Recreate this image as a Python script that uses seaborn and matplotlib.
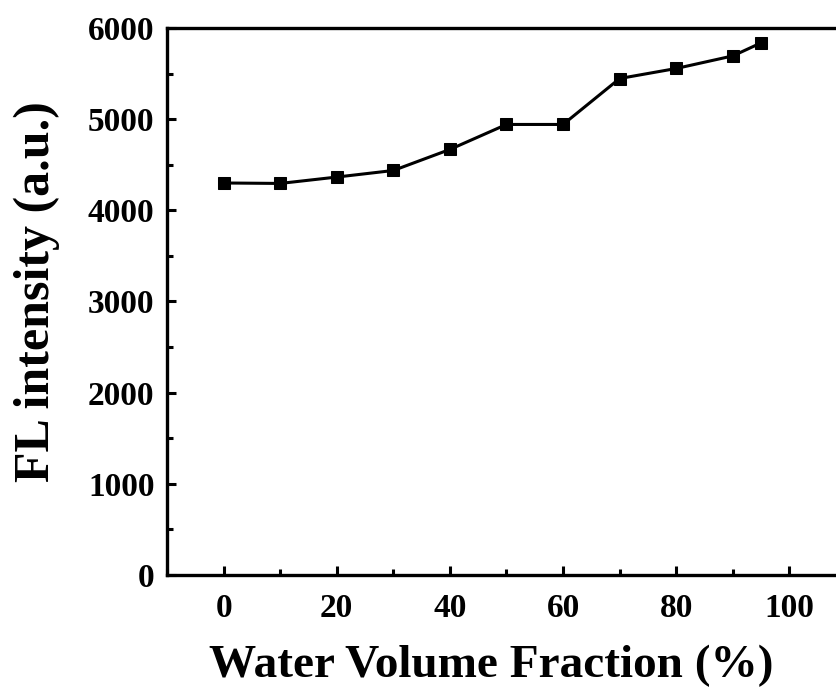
import matplotlib
matplotlib.use("Agg")
import matplotlib.pyplot as plt
import seaborn as sns
import pandas as pd
from matplotlib.ticker import MultipleLocator

water_fraction = [0, 10, 20, 30, 40, 50, 60, 70, 80, 90, 95]
fl_intensity = [4300, 4295, 4365, 4437, 4668, 4942, 4942, 5446, 5556, 5694, 5837]
x_label = "Water Volume Fraction (%)"
y_label = "FL intensity (a.u.)"

df = pd.DataFrame({"x": water_fraction, "y": fl_intensity})

sns.set_theme(style="white")
plt.rcParams["font.family"] = ["Liberation Serif", "DejaVu Serif"]
plt.rcParams["font.weight"] = "bold"

fig = plt.figure(figsize=(8.37, 6.91), dpi=100)
ax = fig.add_axes([167 / 837, 116 / 691, (846 - 167) / 837, (575 - 28) / 691])

sns.lineplot(data=df, x="x", y="y", ax=ax, color="black", linewidth=2.2,
             marker="s", markersize=9, markeredgecolor="black", markerfacecolor="black")

ax.set_xlim(-10, 110)
ax.set_ylim(0, 6000)
ax.xaxis.set_major_locator(MultipleLocator(20))
ax.xaxis.set_minor_locator(MultipleLocator(10))
ax.yaxis.set_major_locator(MultipleLocator(1000))
ax.yaxis.set_minor_locator(MultipleLocator(500))

for s in ax.spines.values():
    s.set_linewidth(2.4)
    s.set_color("black")

ax.tick_params(which="both", direction="in", color="black", width=2.2,
               bottom=True, left=True, top=False, right=False)
ax.tick_params(which="major", length=6.5)
ax.tick_params(which="minor", length=4)
ax.tick_params(axis="x", which="major", labelsize=24, pad=13, labelcolor="black")
ax.tick_params(axis="y", which="major", labelsize=24, pad=9, labelcolor="black")
for lab in ax.get_xticklabels() + ax.get_yticklabels():
    lab.set_fontweight("bold")

ax.set_xlabel(x_label, fontsize=34, fontweight="bold", color="black", labelpad=15)
ax.set_ylabel(y_label, fontsize=36, fontweight="bold", color="black", labelpad=20)
ax.xaxis.label.set_x(0.477)
ax.yaxis.label.set_y(0.519)
ax.grid(False)

fig.savefig("out.png", dpi=100)
